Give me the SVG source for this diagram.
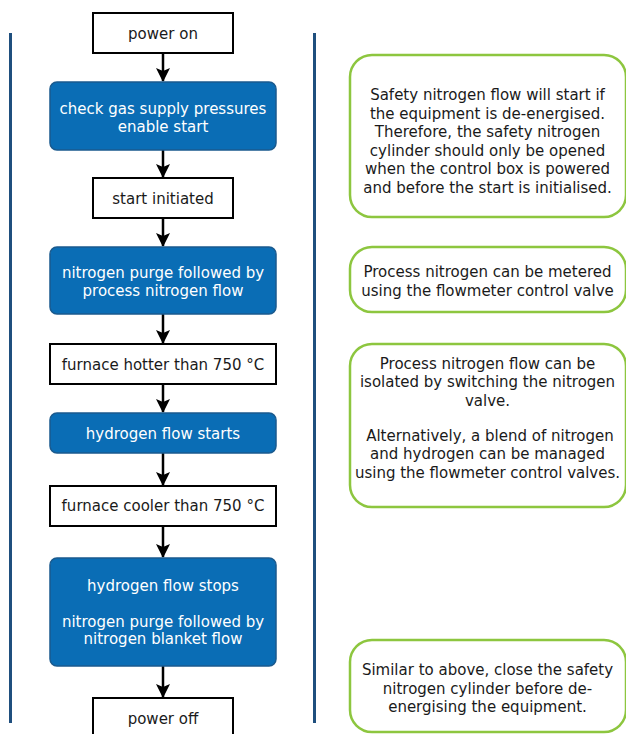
<svg xmlns="http://www.w3.org/2000/svg" width="626" height="734" viewBox="0 0 626 734">
<defs>
<style>
text{font-family:"DejaVu Sans","Verdana",sans-serif;font-size:15px;text-anchor:middle}
.w{fill:#ffffff;stroke:#000000;stroke-width:2}
.b{fill:#0a6db5;stroke:#1a5a8e;stroke-width:1.5}
.g{fill:#ffffff;stroke:#8dc63f;stroke-width:2.5}
.tw{fill:#ffffff}
.tk{fill:#1a1a1a}
.lane{stroke:#1f4f7e;stroke-width:3}
.arr{stroke:#000000;stroke-width:2.5;fill:none;marker-end:url(#ah)}
</style>
<marker id="ah" viewBox="0 0 14 14" refX="13" refY="7" markerWidth="14" markerHeight="14" markerUnits="userSpaceOnUse" orient="auto">
<path d="M0,0 L14,7 L0,14 L3,7 Z" fill="#000000"/>
</marker>
</defs>
<rect width="626" height="734" fill="#ffffff"/>
<g id="lanes">
<line class="lane" x1="10.5" y1="33" x2="10.5" y2="723"/>
<line class="lane" x1="314.5" y1="33" x2="314.5" y2="723"/>
</g>
<g id="connectors">
<line class="arr" x1="163" y1="53" x2="163" y2="81"/>
<line class="arr" x1="163" y1="150" x2="163" y2="177"/>
<line class="arr" x1="163" y1="218" x2="163" y2="246"/>
<line class="arr" x1="163" y1="314" x2="163" y2="343"/>
<line class="arr" x1="163" y1="384" x2="163" y2="412"/>
<line class="arr" x1="163" y1="453" x2="163" y2="485"/>
<line class="arr" x1="163" y1="526" x2="163" y2="557"/>
<line class="arr" x1="163" y1="666" x2="163" y2="697"/>
</g>
<g id="n-power-on">
<rect class="w" x="93" y="13" width="140" height="40"/>
<text class="tk" x="163" y="38.5">power on</text>
</g>
<g id="n-check-gas">
<rect class="b" x="50" y="82" width="226" height="68" rx="7"/>
<text class="tw" x="163" y="113.5">check gas supply pressures</text>
<text class="tw" x="163" y="131.5">enable start</text>
</g>
<g id="n-start-initiated">
<rect class="w" x="93" y="178" width="140" height="40"/>
<text class="tk" x="163" y="204">start initiated</text>
</g>
<g id="n-nitrogen-purge">
<rect class="b" x="50" y="247" width="226" height="67" rx="7"/>
<text class="tw" x="163" y="278">nitrogen purge followed by</text>
<text class="tw" x="163" y="296">process nitrogen flow</text>
</g>
<g id="n-furnace-hotter">
<rect class="w" x="50" y="344" width="226" height="40"/>
<text class="tk" x="163" y="370">furnace hotter than 750 °C</text>
</g>
<g id="n-hydrogen-starts">
<rect class="b" x="50" y="413" width="226" height="40" rx="7"/>
<text class="tw" x="163" y="439">hydrogen flow starts</text>
</g>
<g id="n-furnace-cooler">
<rect class="w" x="50" y="486" width="226" height="40"/>
<text class="tk" x="163" y="511">furnace cooler than 750 °C</text>
</g>
<g id="n-hydrogen-stops">
<rect class="b" x="50" y="558" width="226" height="108" rx="7"/>
<text class="tw" x="163" y="591">hydrogen flow stops</text>
<text class="tw" x="163" y="627">nitrogen purge followed by</text>
<text class="tw" x="163" y="644">nitrogen blanket flow</text>
</g>
<g id="n-power-off">
<rect class="w" x="93" y="698" width="140" height="40"/>
<text class="tk" x="163" y="724">power off</text>
</g>
<g id="note-1">
<rect class="g" x="350" y="55" width="276" height="162" rx="22"/>
<text class="tk" x="487.5" y="100">Safety nitrogen flow will start if</text>
<text class="tk" x="487.5" y="118.5">the equipment is de-energised.</text>
<text class="tk" x="487.5" y="137">Therefore, the safety nitrogen</text>
<text class="tk" x="487.5" y="155.5">cylinder should only be opened</text>
<text class="tk" x="487.5" y="174">when the control box is powered</text>
<text class="tk" x="487.5" y="192.5">and before the start is initialised.</text>
</g>
<g id="note-2">
<rect class="g" x="350" y="247" width="276" height="65" rx="22"/>
<text class="tk" x="487.5" y="277">Process nitrogen can be metered</text>
<text class="tk" x="487.5" y="295.5">using the flowmeter control valve</text>
</g>
<g id="note-3">
<rect class="g" x="350" y="344" width="276" height="163" rx="22"/>
<text class="tk" x="487.5" y="368.5">Process nitrogen flow can be</text>
<text class="tk" x="487.5" y="387">isolated by switching the nitrogen</text>
<text class="tk" x="487.5" y="405.5">valve.</text>
<text class="tk" x="490" y="440.5">Alternatively, a blend of nitrogen</text>
<text class="tk" x="487.5" y="459">and hydrogen can be managed</text>
<text class="tk" x="487.5" y="477.5">using the flowmeter control valves.</text>
</g>
<g id="note-4">
<rect class="g" x="350" y="640" width="276" height="92" rx="22"/>
<text class="tk" x="487.5" y="675">Similar to above, close the safety</text>
<text class="tk" x="487.5" y="693.5">nitrogen cylinder before de-</text>
<text class="tk" x="487.5" y="712">energising the equipment.</text>
</g>
</svg>
